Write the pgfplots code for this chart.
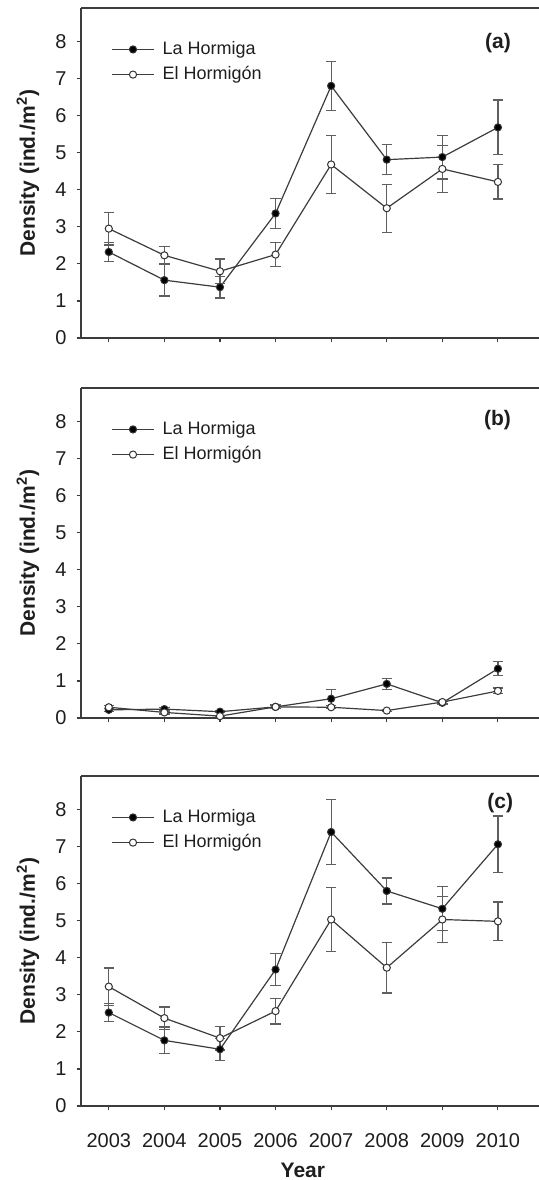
\documentclass[border=0pt]{standalone}
\usepackage{pgfplots}
\usepackage{pgfplotstable}
\pgfplotsset{compat=1.18}
\usepackage{fontspec}
\setmainfont{Liberation Sans}
\definecolor{lineC}{RGB}{60,60,60}
\definecolor{errC}{RGB}{95,95,95}
\definecolor{txtC}{RGB}{30,30,30}

\pgfplotstableread{
year lh lhe eh ehe
2003 2.32 0.25 2.95 0.44
2004 1.56 0.43 2.23 0.23
2005 1.37 0.29 1.80 0.33
2006 3.36 0.41 2.25 0.33
2007 6.80 0.66 4.68 0.78
2008 4.81 0.40 3.50 0.65
2009 4.88 0.59 4.56 0.63
2010 5.68 0.74 4.21 0.46
}\dataA
\pgfplotstableread{
year lh lhe eh ehe
2003 0.22 0.04 0.29 0.04
2004 0.24 0.04 0.15 0.04
2005 0.17 0.03 0.05 0.02
2006 0.30 0.05 0.30 0.05
2007 0.52 0.25 0.29 0.04
2008 0.92 0.15 0.20 0.03
2009 0.41 0.04 0.43 0.04
2010 1.33 0.19 0.73 0.08
}\dataB
\pgfplotstableread{
year lh lhe eh ehe
2003 2.52 0.25 3.22 0.50
2004 1.77 0.36 2.37 0.30
2005 1.53 0.30 1.83 0.32
2006 3.68 0.43 2.56 0.35
2007 7.39 0.87 5.03 0.87
2008 5.80 0.35 3.73 0.68
2009 5.32 0.59 5.03 0.63
2010 7.06 0.76 4.98 0.52
}\dataC

\pgfplotsset{
  panel/.style={
    scale only axis,
    width=228.75pt, height=165pt,
    xmin=2002.5, xmax=2010.73,
    ymin=0, ymax=8.9,
    axis x line=box, axis y line=left,
    axis line style={-, draw=lineC, line width=0.6pt},
    xtick={2003,...,2010}, ytick={0,...,8},
    xtick pos=left,
    tick align=outside,
    major tick length=2.2pt,
    tick style={draw=lineC, line width=0.6pt},
    minor tick num=0,
    yticklabel style={font=\fontsize{10}{12}\selectfont, text=txtC, xshift=-1.5pt},
    xticklabel style={font=\fontsize{10}{12}\selectfont, text=txtC, yshift=-8pt},
    /pgf/number format/assume math mode=true,
    /pgf/number format/1000 sep={},
    ylabel={\bfseries Density (ind./m\textsuperscript{2})},
    ylabel style={at={(axis description cs:-0.116,0.5)}, anchor=center, font=\fontsize{10.5}{12}\selectfont, text=txtC},
    legend style={at={(axis description cs:0,1)}, anchor=north west, xshift=12pt, yshift=-13pt,
      draw=none, fill=none, font=\fontsize{9}{10}\selectfont, text=txtC, row sep=1.5pt, column sep=2.5pt,
      nodes={inner sep=1.5pt}},
    legend cell align=left,
    legend image code/.code={\draw[mark repeat=2,mark phase=2,#1] plot coordinates {(0pt,0pt) (10.5pt,0pt) (21pt,0pt)};},
    clip=false,
  },
  lhS/.style={draw=lineC, line width=0.6pt, mark=*, mark size=1.8pt, mark options={fill=black, draw=black!80, line width=0.5pt},
    error bars/.cd, y dir=both, y explicit, error bar style={draw=errC, line width=0.6pt}, error mark options={rotate=90, mark size=2.6pt, draw=errC, line width=0.6pt}},
  ehS/.style={draw=lineC, line width=0.6pt, mark=*, mark size=1.8pt, mark options={fill=white, draw=black!80, line width=0.5pt},
    error bars/.cd, y dir=both, y explicit, error bar style={draw=errC, line width=0.6pt}, error mark options={rotate=90, mark size=2.6pt, draw=errC, line width=0.6pt}},
}

\begin{document}
\begin{tikzpicture}[x=1pt,y=1pt]
\begin{axis}[panel, at={(40.5pt,421pt)}, anchor=south west, xticklabels={}]
\addplot[lhS] table[x=year,y=lh,y error=lhe]{\dataA};
\addlegendentry{La Hormiga}
\addplot[ehS] table[x=year,y=eh,y error=ehe]{\dataA};
\addlegendentry{El Hormigón}
\node[anchor=east, font=\fontsize{10.5}{12}\selectfont\bfseries, text=txtC] at (rel axis cs:0.955,0.894) {(a)};
\end{axis}
\begin{axis}[panel, at={(40.5pt,231pt)}, anchor=south west, xticklabels={}]
\addplot[lhS] table[x=year,y=lh,y error=lhe]{\dataB};
\addlegendentry{La Hormiga}
\addplot[ehS] table[x=year,y=eh,y error=ehe]{\dataB};
\addlegendentry{El Hormigón}
\node[anchor=east, font=\fontsize{10.5}{12}\selectfont\bfseries, text=txtC] at (rel axis cs:0.955,0.904) {(b)};
\end{axis}
\begin{axis}[panel, at={(40.5pt,37pt)}, anchor=south west,
  xlabel={\bfseries Year},
  xlabel style={at={(axis description cs:0.485,0)}, anchor=center, yshift=-32pt, font=\fontsize{10.5}{12}\selectfont, text=txtC}]
\addplot[lhS] table[x=year,y=lh,y error=lhe]{\dataC};
\addlegendentry{La Hormiga}
\addplot[ehS] table[x=year,y=eh,y error=ehe]{\dataC};
\addlegendentry{El Hormigón}
\node[anchor=east, font=\fontsize{10.5}{12}\selectfont\bfseries, text=txtC] at (rel axis cs:0.96,0.918) {(c)};
\end{axis}
\pgfresetboundingbox
\useasboundingbox (0pt,0pt) rectangle (269.5pt,590pt);
\end{tikzpicture}
\end{document}
